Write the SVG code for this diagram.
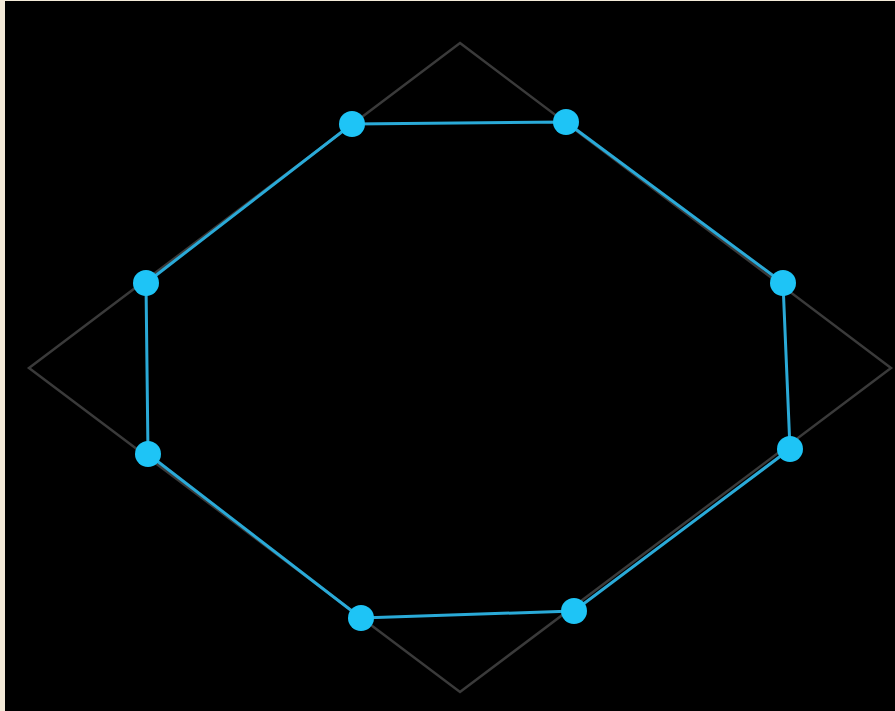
<svg xmlns="http://www.w3.org/2000/svg" width="895" height="711" viewBox="0 0 895 711">
<style>
.diamond{fill:none;stroke:#3a3a3a;stroke-width:2.5;stroke-linejoin:miter}
.edge{fill:none;stroke:#2aaad8;stroke-width:3;stroke-linejoin:round}
.node{fill:#1ec4f6}
</style>
<rect x="0" y="0" width="895" height="711" fill="#f3ead8"/>
<rect x="5" y="1" width="890" height="710" fill="#000000"/>
<polygon class="diamond" points="460,43 891,368 460,692 29,368"/>
<g id="connectors">
<polygon class="edge" points="352,124 566,122 783,283 790,449 574,611 361,618 148,454 146,283"/>
</g>
<g id="n1"><circle class="node" cx="352" cy="124" r="13"/></g>
<g id="n2"><circle class="node" cx="566" cy="122" r="13"/></g>
<g id="n3"><circle class="node" cx="783" cy="283" r="13"/></g>
<g id="n4"><circle class="node" cx="790" cy="449" r="13"/></g>
<g id="n5"><circle class="node" cx="574" cy="611" r="13"/></g>
<g id="n6"><circle class="node" cx="361" cy="618" r="13"/></g>
<g id="n7"><circle class="node" cx="148" cy="454" r="13"/></g>
<g id="n8"><circle class="node" cx="146" cy="283" r="13"/></g>
</svg>
